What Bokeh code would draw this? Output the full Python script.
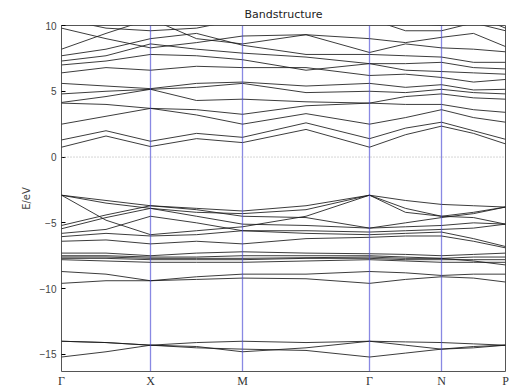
from bokeh.plotting import figure
from bokeh.models import Span, Label, FixedTicker, Range1d
from bokeh.embed import file_html
from bokeh.resources import INLINE

# high-symmetry path positions (relative k distance) and labels
kpoint_pos = [0.0, 0.89, 1.81, 3.08, 3.80, 4.44]
kpoint_labels = ["Γ", "X", "M", "Γ", "N", "P"]
# sample positions: high-symmetry points and segment midpoints
k_samples = [0.0, 0.445, 0.89, 1.35, 1.81, 2.445, 3.08, 3.44, 3.80, 4.12, 4.44]

# band energies (eV) at k_samples
core_bands = [
    [-15.2, -14.8, -14.3, -14.5, -14.6, -14.7, -15.2, -14.9, -14.6, -14.5, -14.3],
    [-14.0, -14.1, -14.3, -14.4, -14.8, -14.5, -14.0, -14.05, -14.1, -14.2, -14.3],
    [-14.0, -14.1, -14.3, -14.1, -14.0, -14.1, -14.0, -14.3, -14.6, -14.4, -14.3],
]
low_bands = [
    [-9.6, -9.4, -9.4, -9.3, -9.2, -9.25, -9.6, -9.3, -9.1, -9.2, -9.5],
    [-8.7, -8.9, -9.4, -9.1, -8.9, -8.9, -8.7, -8.8, -9.0, -8.9, -8.9],
]
flat_bands = [
    [-7.3, -7.3, -7.5, -7.3, -7.2, -7.3, -7.35, -7.4, -7.5, -7.4, -7.3],
    [-7.5, -7.5, -7.6, -7.6, -7.5, -7.5, -7.5, -7.6, -7.7, -7.6, -7.6],
    [-7.7, -7.7, -7.8, -7.8, -7.8, -7.7, -7.7, -7.8, -7.8, -7.8, -7.8],
    [-7.8, -7.9, -8.0, -8.0, -8.0, -7.9, -7.8, -7.9, -8.0, -8.0, -8.0],
    [-7.6, -7.6, -7.7, -7.7, -7.7, -7.65, -7.6, -7.7, -7.7, -7.9, -8.2],
]
valence_bands = [
    [-2.9, -3.3, -3.7, -3.9, -4.1, -3.7, -2.9, -3.3, -3.6, -3.7, -3.8],
    [-2.9, -3.5, -3.9, -4.2, -4.3, -4.0, -2.9, -3.9, -4.5, -4.2, -3.8],
    [-2.9, -4.8, -5.9, -5.6, -5.3, -4.5, -2.9, -4.2, -4.5, -4.6, -5.1],
    [-5.2, -4.4, -3.7, -4.0, -4.5, -4.6, -5.4, -5.0, -4.6, -4.3, -3.8],
    [-5.45, -4.6, -3.9, -4.5, -5.1, -5.2, -5.4, -5.3, -5.2, -5.0, -5.1],
    [-5.8, -5.5, -4.5, -5.0, -5.6, -5.6, -5.7, -5.6, -5.5, -5.4, -5.1],
    [-6.05, -5.8, -6.0, -5.9, -5.6, -5.8, -5.9, -5.8, -5.7, -6.2, -6.8],
    [-6.4, -6.3, -6.6, -6.4, -6.6, -6.2, -6.1, -6.0, -6.0, -6.4, -6.9],
]
conduction_bands = [
    [0.75, 1.6, 0.8, 1.4, 1.1, 2.1, 0.75, 1.7, 2.35, 1.8, 1.0],
    [1.3, 2.0, 1.2, 1.8, 1.5, 2.6, 1.4, 2.2, 2.65, 2.0, 1.35],
    [2.5, 3.1, 3.7, 3.2, 2.5, 3.3, 2.5, 3.0, 3.6, 3.0, 2.65],
    [4.1, 4.0, 3.7, 3.6, 3.25, 3.9, 4.1, 4.0, 4.0, 3.6, 3.4],
    [4.15, 4.6, 5.15, 4.3, 4.4, 4.2, 4.1, 4.6, 4.8, 4.5, 4.4],
    [4.8, 5.0, 5.15, 5.3, 5.6, 4.9, 5.0, 4.9, 5.15, 4.9, 4.8],
    [5.6, 5.4, 5.2, 5.6, 5.7, 5.4, 5.6, 5.3, 5.5, 5.1, 5.15],
    [6.4, 6.8, 6.6, 6.9, 6.8, 6.8, 6.2, 6.3, 6.05, 5.7, 5.9],
    [7.0, 7.3, 7.8, 7.7, 7.4, 6.6, 7.1, 6.6, 6.5, 6.4, 6.3],
    [7.3, 7.7, 8.6, 8.2, 7.9, 7.6, 7.1, 7.1, 7.2, 6.8, 6.7],
    [7.7, 8.2, 9.0, 9.4, 8.5, 7.8, 7.8, 7.7, 7.6, 7.2, 7.2],
    [8.2, 9.4, 10.5, 9.0, 8.6, 9.3, 7.95, 8.6, 8.3, 8.2, 8.0],
    [9.8, 9.0, 8.3, 8.7, 9.2, 9.3, 9.0, 8.7, 9.1, 9.4, 8.4],
    [10.5, 9.8, 9.6, 9.8, 10.5, 10.2, 10.5, 9.6, 9.6, 10.2, 9.6],
    [11.0, 10.6, 10.2, 10.5, 11.0, 10.6, 11.0, 10.2, 10.0, 10.8, 9.8],
]
y_ticks = [-15, -10, -5, 0, 5, 10]

all_bands = core_bands + low_bands + flat_bands + valence_bands + conduction_bands

p = figure(width=516, height=390, output_backend="svg", toolbar_location=None,
           title="Bandstructure",
           x_range=Range1d(kpoint_pos[0], kpoint_pos[-1]),
           y_range=Range1d(-16.3, 10),
           min_border_left=61, min_border_right=11, min_border_top=10,
           min_border_bottom=18)

p.title.align = "center"
p.title.text_font = "DejaVu Sans"
p.title.text_font_style = "normal"
p.title.text_font_size = "11px"
p.title.text_color = "#222222"
p.title.offset = 0

p.xgrid.visible = False
p.ygrid.visible = False
p.outline_line_color = "#555555"
p.outline_line_width = 1
p.background_fill_color = "white"
p.border_fill_color = "white"

for band in all_bands:
    p.line(k_samples, band, line_color="#1a1a1a", line_width=1, line_alpha=0.85)

for kp in kpoint_pos[1:-1]:
    p.add_layout(Span(location=kp, dimension="height", line_color="#3a3ad0",
                      line_alpha=0.6, line_width=1.3))

p.add_layout(Span(location=0, dimension="width", line_color="#aaaaaa",
                  line_dash="1 2", line_width=1))

p.add_layout(Label(x=kpoint_pos[-1], y=0, text="ε", x_offset=3, y_offset=-6,
                   text_font_size="8px", text_color="#444444"))

p.yaxis.ticker = FixedTicker(ticks=y_ticks)
p.yaxis.major_label_overrides = {-15: "−15", -10: "−10", -5: "−5", 0: "0", 5: "5", 10: "10"}
p.yaxis.axis_label = "E/eV"
p.yaxis.axis_label_text_font = "DejaVu Sans"
p.yaxis.axis_label_text_font_style = "normal"
p.yaxis.axis_label_text_font_size = "10px"
p.yaxis.major_label_text_font_size = "10px"
p.yaxis.major_label_text_color = "#444444"
p.yaxis.minor_tick_line_color = None
p.yaxis.major_tick_in = 4
p.yaxis.major_tick_out = 0
p.yaxis.axis_line_color = None

p.xaxis.ticker = FixedTicker(ticks=kpoint_pos)
p.xaxis.major_label_overrides = {kp: lab for kp, lab in zip(kpoint_pos, kpoint_labels)}
p.xaxis.major_label_text_font = "Liberation Serif"
p.xaxis.major_label_text_font_size = "12px"
p.xaxis.major_label_text_color = "#333333"
p.xaxis.major_tick_in = 0
p.xaxis.major_tick_out = 0
p.xaxis.minor_tick_line_color = None
p.xaxis.axis_line_color = None
p.xaxis.major_label_standoff = 2

open("out.html", "w").write(file_html(p, INLINE))
